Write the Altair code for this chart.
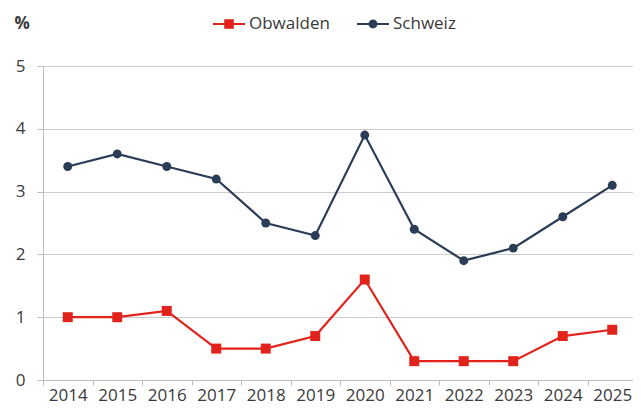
import altair as alt
import pandas as pd

years = ["2014", "2015", "2016", "2017", "2018", "2019", "2020", "2021", "2022", "2023", "2024", "2025"]
obwalden = [1.0, 1.0, 1.1, 0.5, 0.5, 0.7, 1.6, 0.3, 0.3, 0.3, 0.7, 0.8]
schweiz = [3.4, 3.6, 3.4, 3.2, 2.5, 2.3, 3.9, 2.4, 1.9, 2.1, 2.6, 3.1]
series = ["Obwalden", "Schweiz"]
colors = ["#e2231b", "#2b3c56"]

rows = []
for y, v in zip(years, obwalden):
    rows.append({"Jahr": y, "Wert": v, "Region": "Obwalden"})
for y, v in zip(years, schweiz):
    rows.append({"Jahr": y, "Wert": v, "Region": "Schweiz"})
df = pd.DataFrame(rows)

FONT = "Open Sans"
TXT = "#3a3a3a"

color_scale = alt.Scale(domain=series, range=colors)

x_enc = alt.X(
    "Jahr:O",
    bandPosition=0.5,
    scale=alt.Scale(type="band", paddingInner=0, paddingOuter=0),
    axis=alt.Axis(
        title=None, labelAngle=0, tickBand="extent", grid=False,
        domainColor="#bdbdbd", tickColor="#bdbdbd", tickSize=5,
        labelFontSize=17, labelColor=TXT, labelFont=FONT, labelPadding=2,
    ),
)
y_enc = alt.Y(
    "Wert:Q",
    scale=alt.Scale(domain=[0, 5], nice=False),
    axis=alt.Axis(
        values=[0, 1, 2, 3, 4, 5], format="d",
        title="%", titleAngle=0, titleAlign="left", titleBaseline="middle",
        titleX=-29, titleY=-43, titleFontSize=17, titleFont=FONT,
        titleColor=TXT, titleFontWeight="bold",
        grid=True, gridColor="#cccccc", gridWidth=1,
        domainColor="#bdbdbd", tickColor="#bdbdbd", tickSize=6,
        labelFontSize=17, labelColor=TXT, labelFont=FONT, labelPadding=12,
    ),
)

leg_shapes = [
    "M-1,-0.07H1V0.07H-1Z M-0.3,-0.3H0.3V0.3H-0.3Z",
    "M-1,-0.07H1V0.07H-1Z M0.28,0A0.28,0.28 0 1,1 -0.28,0A0.28,0.28 0 1,1 0.28,0Z",
]

legend_def = alt.Legend(
    title=None, orient="none", direction="horizontal",
    legendX=170, legendY=-58, padding=0,
    symbolSize=1024, symbolStrokeWidth=0, symbolOpacity=1,
    labelFontSize=17, labelFont=FONT, labelColor=TXT,
    labelOffset=4, columnPadding=27,
)

color_enc = alt.Color("Region:N", scale=color_scale, legend=legend_def)

base = alt.Chart(df)

lines = base.mark_line(strokeWidth=2.2).encode(x=x_enc, y=y_enc, color=color_enc)

sq = base.transform_filter(alt.datum.Region == "Obwalden").mark_point(
    shape="square", filled=True, size=100, opacity=1
).encode(x=x_enc, y=y_enc, color=color_enc)

ci = base.transform_filter(alt.datum.Region == "Schweiz").mark_point(
    shape="circle", filled=True, size=80, opacity=1
).encode(x=x_enc, y=y_enc, color=color_enc)

legend_layer = base.mark_point(filled=True, clip=True, size=1024).encode(
    x=alt.value(-500), y=alt.value(-500),
    color=color_enc,
    shape=alt.Shape("Region:N", scale=alt.Scale(domain=series, range=leg_shapes), legend=legend_def),
)

chart = alt.layer(lines, sq, ci, legend_layer).properties(
    width=594, height=314,
    autosize=alt.AutoSizeParams(type="none"),
    padding={"left": 35, "top": 58, "right": -4, "bottom": 26},
).configure_view(stroke=None)

chart.save("out.html", embed_options={"renderer": "svg", "actions": False})
